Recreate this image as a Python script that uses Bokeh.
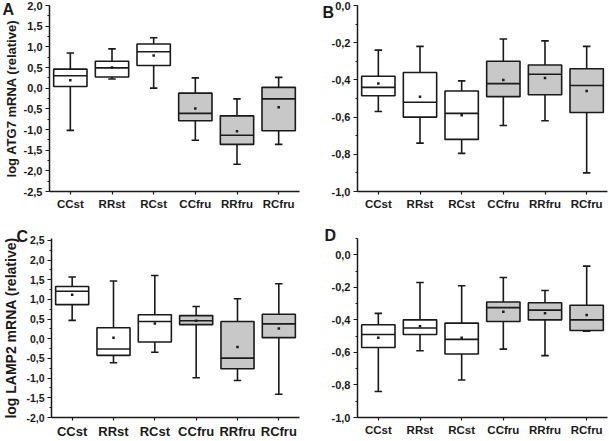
from bokeh.plotting import figure
from bokeh.layouts import column, row
from bokeh.models import (ColumnDataSource, FactorRange, Range1d, SingleIntervalTicker,
                          CustomJSTickFormatter)
from bokeh.core.properties import value
from bokeh.transform import dodge
from bokeh.embed import file_html
from bokeh.resources import INLINE

groups = ["CCst", "RRst", "RCst", "CCfru", "RRfru", "RCfru"]
fills = ["white", "white", "white", "#c8c8c8", "#c8c8c8", "#c8c8c8"]

# Panel A: log ATG7 mRNA (relative)
a_low = [-1.02, 0.22, 0.00, -1.26, -1.84, -1.36]
a_q1 = [0.04, 0.27, 0.55, -0.79, -1.36, -1.03]
a_med = [0.30, 0.49, 0.88, -0.61, -1.14, -0.26]
a_mean = [0.19, 0.50, 0.79, -0.49, -1.04, -0.46]
a_q3 = [0.46, 0.65, 1.07, -0.12, -0.67, 0.02]
a_high = [0.85, 0.95, 1.22, 0.25, -0.26, 0.26]

# Panel B
b_low = [-0.57, -0.74, -0.795, -0.645, -0.62, -0.90]
b_q1 = [-0.485, -0.60, -0.72, -0.49, -0.48, -0.575]
b_med = [-0.44, -0.52, -0.58, -0.42, -0.37, -0.43]
b_mean = [-0.42, -0.49, -0.59, -0.40, -0.39, -0.46]
b_q3 = [-0.38, -0.36, -0.46, -0.30, -0.32, -0.34]
b_high = [-0.24, -0.22, -0.405, -0.18, -0.19, -0.22]

# Panel C: log LAMP2 mRNA (relative)
c_low = [0.47, -0.61, -0.34, -0.99, -1.06, -1.41]
c_q1 = [0.87, -0.42, -0.08, 0.36, -0.76, 0.03]
c_med = [1.21, -0.26, 0.44, 0.46, -0.49, 0.38]
c_mean = [1.12, 0.03, 0.39, 0.46, -0.21, 0.26]
c_q3 = [1.33, 0.28, 0.61, 0.59, 0.44, 0.625]
c_high = [1.57, 1.47, 1.61, 0.82, 1.02, 1.40]

# Panel D
d_low = [-0.84, -0.59, -0.77, -0.58, -0.62, -0.47]
d_q1 = [-0.57, -0.49, -0.61, -0.41, -0.40, -0.465]
d_med = [-0.49, -0.45, -0.52, -0.325, -0.34, -0.40]
d_mean = [-0.51, -0.44, -0.51, -0.35, -0.36, -0.37]
d_q3 = [-0.43, -0.40, -0.42, -0.29, -0.295, -0.31]
d_high = [-0.36, -0.17, -0.19, -0.14, -0.22, -0.07]

FONT = "Liberation Sans"
INK = "#1a1a1a"


def panel(letter, low, q1, med, mean, q3, high, y0, y1, interval, ylabel,
          width, height, bl, br, bt, bb, letter_dx, letter_dy,
          ytick_size, xtick_size, ylabel_size, ylabel_standoff):
    src = ColumnDataSource(dict(g=groups, low=low, q1=q1, med=med, mean=mean,
                                q3=q3, high=high, fill=fills))
    p = figure(x_range=FactorRange(*groups, range_padding=0), y_range=Range1d(y0, y1),
               width=width, height=height, output_backend="svg", toolbar_location=None,
               min_border_left=bl, min_border_right=br, min_border_top=bt,
               min_border_bottom=bb)
    p.outline_line_color = None
    p.xgrid.visible = False
    p.ygrid.visible = False
    p.background_fill_color = "white"
    p.border_fill_color = "white"

    # whiskers and caps
    p.segment(x0="g", y0="low", x1="g", y1="high", source=src, line_color=INK, line_width=1.6)
    p.segment(x0=dodge("g", -0.09, range=p.x_range), y0="high",
              x1=dodge("g", 0.09, range=p.x_range), y1="high",
              source=src, line_color=INK, line_width=1.6)
    p.segment(x0=dodge("g", -0.09, range=p.x_range), y0="low",
              x1=dodge("g", 0.09, range=p.x_range), y1="low",
              source=src, line_color=INK, line_width=1.6)
    # boxes
    p.vbar(x="g", width=0.8, top="q3", bottom="q1", source=src, fill_color="fill",
           line_color=INK, line_width=1.6)
    # median
    p.segment(x0=dodge("g", -0.4, range=p.x_range), y0="med",
              x1=dodge("g", 0.4, range=p.x_range), y1="med",
              source=src, line_color=INK, line_width=1.6)
    # mean
    p.scatter(x="g", y="mean", source=src, marker="square", size=2.5,
              fill_color=INK, line_color=None)

    yax = p.yaxis[0]
    yax.ticker = SingleIntervalTicker(interval=interval, num_minor_ticks=2)
    yax.formatter = CustomJSTickFormatter(
        code="if (Math.abs(tick) < 1e-9) { return '0,0'; } return tick.toFixed(1).replace('.', ',');")
    yax.major_label_text_font = FONT
    yax.major_label_text_font_style = "bold"
    yax.major_label_text_font_size = ytick_size
    yax.major_label_text_color = INK
    yax.major_label_standoff = 3
    yax.major_tick_in = 0
    yax.major_tick_out = 4
    yax.minor_tick_in = 0
    yax.minor_tick_out = 2
    yax.axis_line_width = 1.5
    yax.axis_line_color = INK
    yax.major_tick_line_width = 1.2
    yax.minor_tick_line_width = 1.0
    yax.major_tick_line_color = INK
    yax.minor_tick_line_color = INK
    if ylabel:
        yax.axis_label = ylabel
        yax.axis_label_text_font = FONT
        yax.axis_label_text_font_style = "bold"
        yax.axis_label_text_font_size = ylabel_size
        yax.axis_label_text_color = INK
        yax.axis_label_standoff = ylabel_standoff

    xax = p.xaxis[0]
    xax.major_label_text_font = FONT
    xax.major_label_text_font_style = "bold"
    xax.major_label_text_font_size = xtick_size
    xax.major_label_text_color = INK
    xax.major_label_standoff = 3
    xax.major_tick_in = 0
    xax.major_tick_out = 3
    xax.major_tick_line_width = 1.2
    xax.major_tick_line_color = INK
    xax.axis_line_width = 1.5
    xax.axis_line_color = INK

    # panel letter at the frame's top-left corner (unclipped overlay level)
    p.text(x=[p.x_range.start], y=[p.y_range.end], text=[letter],
           x_offset=letter_dx, y_offset=letter_dy, text_font=value(FONT),
           text_font_style="bold", text_font_size="16px", text_color=INK,
           text_align="left", text_baseline="top", level="overlay")
    return p


pA = panel("A", a_low, a_q1, a_med, a_mean, a_q3, a_high, -2.5, 2.0, 0.5,
           "log ATG7 mRNA (relative)", 305, 220, 49, 6, 5, 29, -47, -5,
           "11px", "11.5px", "13px", 2)
pB = panel("B", b_low, b_q1, b_med, b_mean, b_q3, b_high, -1.0, 0.0, 0.2,
           None, 304, 220, 52, 2, 5, 29, -35, -2,
           "11px", "11.5px", "13px", 2)
pC = panel("C", c_low, c_q1, c_med, c_mean, c_q3, c_high, -2.0, 2.55, 0.5,
           "log LAMP2 mRNA (relative)", 305, 221, 49, 6, 18, 19, -35, -11,
           "10.5px", "13px", "14px", 4)
pD = panel("D", d_low, d_q1, d_med, d_mean, d_q3, d_high, -1.0, 0.1, 0.2,
           None, 304, 221, 52, 2, 18, 19, -33, -12,
           "11px", "11.5px", "13px", 2)

layout = column(row(pA, pB), row(pC, pD))
open("out.html", "w").write(file_html(layout, INLINE))
